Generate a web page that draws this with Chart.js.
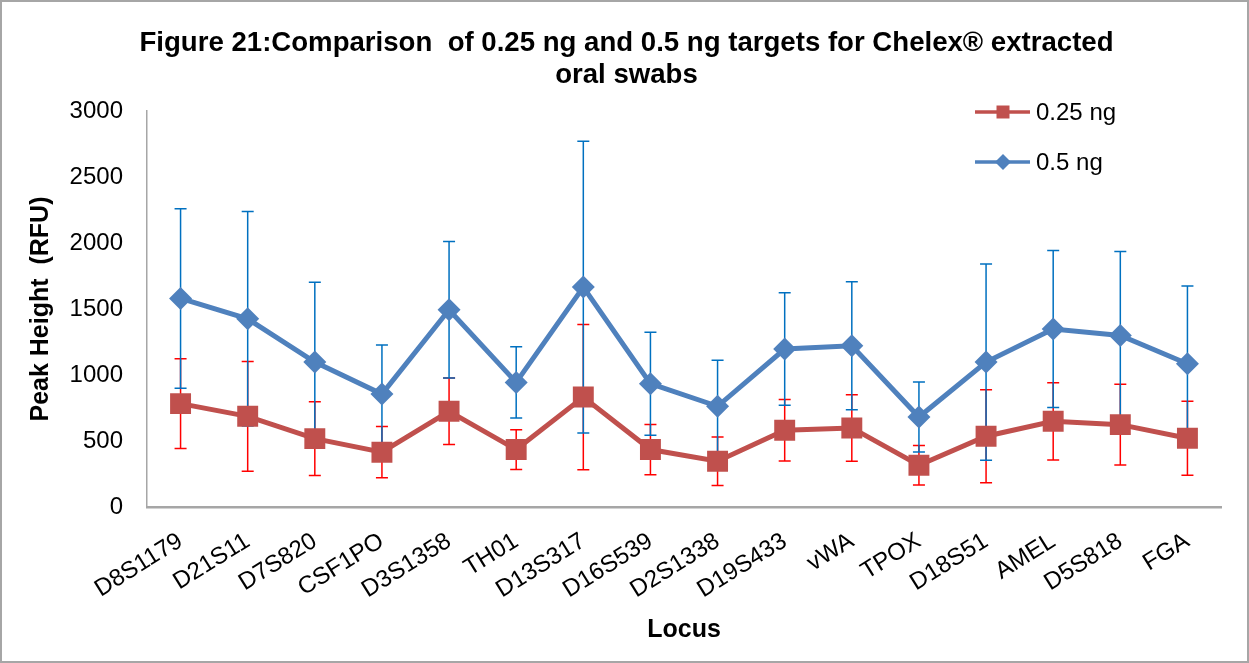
<!DOCTYPE html>
<html>
<head>
<meta charset="utf-8">
<title>Figure 21</title>
<script src="https://cdn.jsdelivr.net/npm/chart.js"></script>
<style>
  html, body { margin: 0; padding: 0; background: #fff; }
  #wrap { width: 1249px; height: 663px; }
</style>
</head>
<body>
<div id="wrap"><canvas id="lociChart" width="1249" height="663"></canvas></div>
<script>
// values
const loci = ['D8S1179', 'D21S11', 'D7S820', 'CSF1PO', 'D3S1358', 'TH01', 'D13S317', 'D16S539',
  'D2S1338', 'D19S433', 'vWA', 'TPOX', 'D18S51', 'AMEL', 'D5S818', 'FGA'];
const quarterNg = [783, 687, 518, 415, 725, 435, 833, 435, 347, 581, 599, 316, 536, 649, 624, 521];
const quarterNgErr = [340, 416, 280, 194, 252, 150, 550, 190, 184, 233, 252, 150, 353, 292, 306, 281];
const halfNg = [1580, 1426, 1098, 856, 1494, 944, 1666, 934, 763, 1197, 1222, 682, 1098, 1348, 1300, 1085];
const halfNgErr = [680, 812, 605, 371, 517, 270, 1105, 390, 348, 427, 485, 265, 743, 595, 635, 590];
const yTicks = [0, 500, 1000, 1500, 2000, 2500, 3000];

const FONT = "'Liberation Sans', Arial, sans-serif";

// white page + grey frame like the exported chart
const framePlugin = {
  id: 'frame',
  beforeDraw(chart) {
    const ctx = chart.ctx;
    ctx.save();
    ctx.fillStyle = '#fff';
    ctx.fillRect(0, 0, chart.width, chart.height);
    ctx.strokeStyle = '#a6a6a6';
    ctx.lineWidth = 2;
    ctx.strokeRect(1, 1, chart.width - 2, chart.height - 2);
    ctx.restore();
  }
};

// error bars, drawn under the lines and markers
const errorBarPlugin = {
  id: 'errorBars',
  beforeDatasetsDraw(chart) {
    const ctx = chart.ctx;
    const y = chart.scales.y;
    ctx.save();
    chart.data.datasets.forEach((ds, i) => {
      const meta = chart.getDatasetMeta(i);
      ctx.strokeStyle = ds.errColor;
      ctx.lineWidth = 1.5;
      meta.data.forEach((pt, j) => {
        const v = ds.data[j];
        const e = ds.errors[j];
        const top = y.getPixelForValue(v + e);
        const bot = y.getPixelForValue(Math.max(v - e, 0));
        ctx.beginPath();
        ctx.moveTo(pt.x, top);
        ctx.lineTo(pt.x, bot);
        ctx.moveTo(pt.x - 6, top);
        ctx.lineTo(pt.x + 6, top);
        ctx.moveTo(pt.x - 6, bot);
        ctx.lineTo(pt.x + 6, bot);
        ctx.stroke();
      });
    });
    ctx.restore();
  }
};

// legend in the top right corner of the plot
const legendPlugin = {
  id: 'cornerLegend',
  afterDraw(chart) {
    const ctx = chart.ctx;
    ctx.save();
    chart.data.datasets.forEach((ds, i) => {
      const cy = 112 + i * 50;
      ctx.strokeStyle = ds.borderColor;
      ctx.lineWidth = 3.5;
      ctx.beginPath();
      ctx.moveTo(975, cy);
      ctx.lineTo(1030, cy);
      ctx.stroke();
      ctx.fillStyle = ds.borderColor;
      ctx.beginPath();
      if (ds.pointStyle === 'rect') {
        ctx.rect(1003 - 6.5, cy - 6.5, 13, 13);
      } else {
        ctx.moveTo(1003 - 8, cy);
        ctx.lineTo(1003, cy - 8);
        ctx.lineTo(1003 + 8, cy);
        ctx.lineTo(1003, cy + 8);
        ctx.closePath();
      }
      ctx.fill();
      ctx.fillStyle = '#000';
      ctx.font = '24px ' + FONT;
      ctx.textBaseline = 'middle';
      ctx.textAlign = 'left';
      ctx.fillText(ds.label, 1036, cy + 1);
    });
    ctx.restore();
  }
};

const ctx = document.getElementById('lociChart').getContext('2d');
new Chart(ctx, {
  type: 'line',
  data: {
    labels: loci,
    datasets: [
      {
        label: '0.25 ng',
        data: quarterNg,
        errors: quarterNgErr,
        errColor: '#ff0000',
        borderColor: '#c0504d',
        backgroundColor: '#c0504d',
        borderWidth: 5,
        pointStyle: 'rect',
        pointRadius: 14.8,
        pointBorderWidth: 0
      },
      {
        label: '0.5 ng',
        data: halfNg,
        errors: halfNgErr,
        errColor: '#0070c0',
        borderColor: '#4f81bd',
        backgroundColor: '#4f81bd',
        borderWidth: 5,
        pointStyle: 'rectRot',
        pointRadius: 11.5,
        pointBorderWidth: 0
      }
    ]
  },
  options: {
    responsive: false,
    animation: false,
    events: [],
    layout: { padding: { top: 10, left: 4, right: 0, bottom: 0 } },
    plugins: {
      legend: { display: false },
      tooltip: { enabled: false },
      title: {
        display: true,
        text: ['Figure 21:Comparison  of 0.25 ng and 0.5 ng targets for Chelex\u00ae extracted', 'oral swabs'],
        color: '#000',
        font: { family: FONT, size: 27.6, weight: 'bold', lineHeight: 1.16 },
        padding: { top: 17, bottom: 20 }
      }
    },
    elements: { line: { tension: 0 } },
    scales: {
      x: {
        offset: true,
        grid: { display: false, drawTicks: false, offset: true },
        border: { color: '#a6a6a6', width: 2.5 },
        ticks: {
          color: '#000',
          font: { family: FONT, size: 24 },
          minRotation: 32,
          maxRotation: 32,
          padding: 20,
          autoSkip: false
        },
        title: {
          display: true,
          text: 'Locus',
          color: '#000',
          font: { family: FONT, size: 25, weight: 'bold', lineHeight: 1.2 },
          padding: { top: 0, bottom: 18 }
        },
        afterFit(scale) { scale.height = 156; }
      },
      y: {
        min: 0,
        max: 3000,
        grid: { display: false, drawTicks: false },
        border: { color: '#a6a6a6', width: 1.5 },
        afterBuildTicks(scale) { scale.ticks = yTicks.map(v => ({ value: v })); },
        ticks: {
          color: '#000',
          font: { family: FONT, size: 24 },
          padding: 24,
          callback: v => String(v)
        },
        title: {
          display: true,
          text: 'Peak Height  (RFU)',
          color: '#000',
          font: { family: FONT, size: 25, weight: 'bold', lineHeight: 1.2 },
          padding: { top: 22, bottom: 0 }
        },
        afterFit(scale) { scale.width = 143; }
      },
      // empty right-hand axis only to keep the plot clear of the right edge
      yRight: {
        position: 'right',
        grid: { display: false, drawTicks: false },
        border: { display: false },
        ticks: { display: false },
        afterFit(scale) { scale.width = 28; }
      }
    }
  },
  plugins: [framePlugin, errorBarPlugin, legendPlugin]
});
</script>
</body>
</html>
